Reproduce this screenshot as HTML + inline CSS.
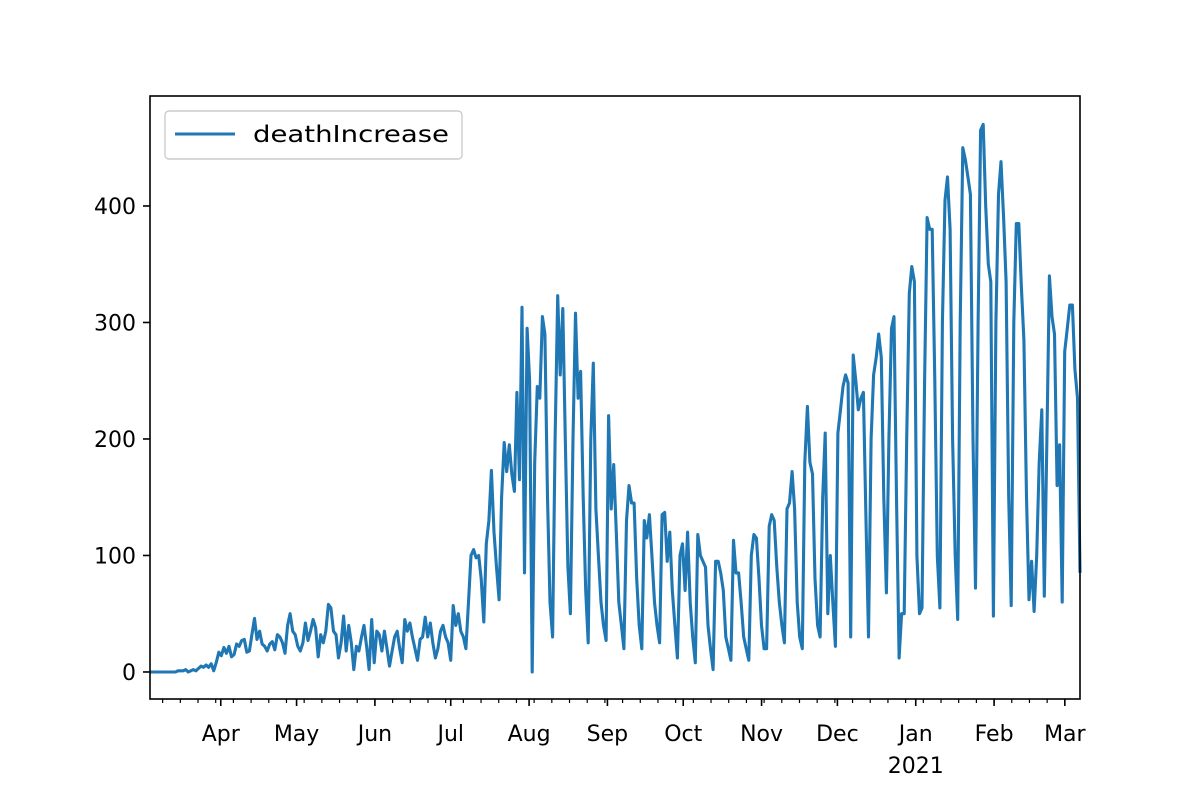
<!DOCTYPE html>
<html><head><meta charset="utf-8"><style>
html,body{margin:0;padding:0;background:#fff;}
svg{display:block;font-family:"DejaVu Sans","Liberation Sans",sans-serif;}
</style></head><body>
<svg id="chart" width="1200" height="787" viewBox="0 0 1200 787">
<rect x="0" y="0" width="1200" height="787" fill="#fff"/>
<g id="plot"></g>
</svg>
<script>
const startDate = "2020-03-04";
const yTicks = [0, 100, 200, 300, 400];
const monthTicks = ["2020-04-01","2020-05-01","2020-06-01","2020-07-01","2020-08-01","2020-09-01","2020-10-01","2020-11-01","2020-12-01","2021-01-01","2021-02-01","2021-03-01"];
const monthLabels = ["Apr","May","Jun","Jul","Aug","Sep","Oct","Nov","Dec","Jan","Feb","Mar"];
const deathIncrease = [
0,0,0,0,0,0,0,0,0,0,
0,1,1,1,2,0,1,2,1,3,5,4,6,4,7,1,8,17,
14,21,16,22,13,15,24,22,27,28,17,18,32,46,28,35,24,22,18,24,26,19,32,30,25,16,40,50,35,32,
22,18,25,42,27,35,45,38,13,32,25,35,58,55,35,32,12,25,48,18,40,25,2,22,18,30,40,22,2,45,8,
35,32,18,35,20,5,18,30,35,20,8,45,35,42,30,20,10,28,30,47,30,42,25,12,20,35,40,30,25,10,
57,40,50,35,30,20,60,100,105,98,100,80,43,110,130,173,120,90,62,150,197,172,195,170,155,240,165,313,85,295,250,
0,180,245,235,305,290,150,60,
30,200,323,255,312,200,90,
50,200,308,235,258,150,70,
25,200,265,140,100,60,40,
27,220,140,178,120,60,40,
20,130,160,145,145,80,40,
20,130,115,135,100,60,40,
25,135,137,95,120,70,40,
12,100,110,70,120,60,30,
8,118,100,95,90,40,20,
2,95,95,85,70,30,20,
10,113,85,85,60,30,20,
10,100,118,115,80,40,20,
20,125,135,130,90,60,40,
25,140,145,172,140,60,30,
20,180,228,180,170,80,40,
30,150,205,50,100,60,22,
205,225,245,255,248,30,272,250,225,235,240,130,30,200,255,270,290,270,150,68,
200,295,305,150,12,50,50,200,325,348,335,100,50,55,250,390,380,380,250,100,
55,300,405,425,380,200,100,45,300,450,440,425,410,200,72,300,465,470,400,350,
335,48,300,410,438,390,335,150,57,300,385,385,330,285,150,62,95,52,100,180,
225,65,200,340,305,290,160,195,60,275,295,315,315,260,235,85
];
const NS="http://www.w3.org/2000/svg";
const plot=document.getElementById('plot');
const L=150,R=1080,T=96,B=699;
const yMin=-23.2,yMax=494.4;
const day0=Date.parse(startDate+"T00:00:00Z");
const totalDays=368;
function xIdx(i){return L+i*(R-L)/(deathIncrease.length-1);}
function xDate(s){const d=(Date.parse(s+"T00:00:00Z")-day0)/86400000;return L+d*(R-L)/totalDays;}
function y(v){return B-(v-yMin)*(B-T)/(yMax-yMin);}
function mk(tag,attrs){const e=document.createElementNS(NS,tag);for(const k in attrs)e.setAttribute(k,attrs[k]);plot.appendChild(e);return e;}

yTicks.forEach(v=>{
  const t=mk('line',{x1:L-7,x2:L,y1:y(v),y2:y(v),stroke:'#000','stroke-width':1.6});
  
  
  const lb=mk('text',{x:L-14,y:y(v)+8,'text-anchor':'end','font-size':22,fill:'#000'});
  lb.textContent=v;
  
  
});
for(let d=-2; d<=totalDays; d+=7){
  const x=L+d*(R-L)/totalDays;
  if(x<L||x>R)continue;
  const t=mk('line',{x1:x,x2:x,y1:B,y2:B+4,stroke:'#000','stroke-width':1.2});
  
  
}
monthTicks.forEach((s,i)=>{
  const x=xDate(s);
  const t=mk('line',{x1:x,x2:x,y1:B,y2:B+7,stroke:'#000','stroke-width':1.6});
  
  
  const lb=mk('text',{x:x,y:741,'text-anchor':'middle','font-size':22,fill:'#000'});
  lb.textContent=monthLabels[i];
  
  
  if(monthLabels[i]==="Jan"){
    const yr=mk('text',{x:x,y:773,'text-anchor':'middle','font-size':22,fill:'#000'});
    yr.textContent="2021";
    
    
  }
});
const pts=deathIncrease.map((v,i)=>xIdx(i).toFixed(1)+","+y(v).toFixed(1)).join(" ");
const line=mk('polyline',{points:pts,fill:'none',stroke:'#1f77b4','stroke-width':3.1,'stroke-linejoin':'round'});


const fr=mk('rect',{x:L,y:T,width:R-L,height:B-T,fill:'none',stroke:'#000','stroke-width':1.6});


const lg=mk('rect',{x:165,y:111,width:297,height:48,rx:4,fill:'#fff','fill-opacity':0.8,stroke:'#ccc','stroke-width':1.4});


const ll=mk('line',{x1:175,x2:235,y1:134,y2:134,stroke:'#1f77b4','stroke-width':3.1});


const lt=mk('text',{x:253,y:142,'font-size':23,fill:'#000',textLength:196,lengthAdjust:'spacingAndGlyphs'});
lt.textContent="deathIncrease";


</script>
</body></html>
